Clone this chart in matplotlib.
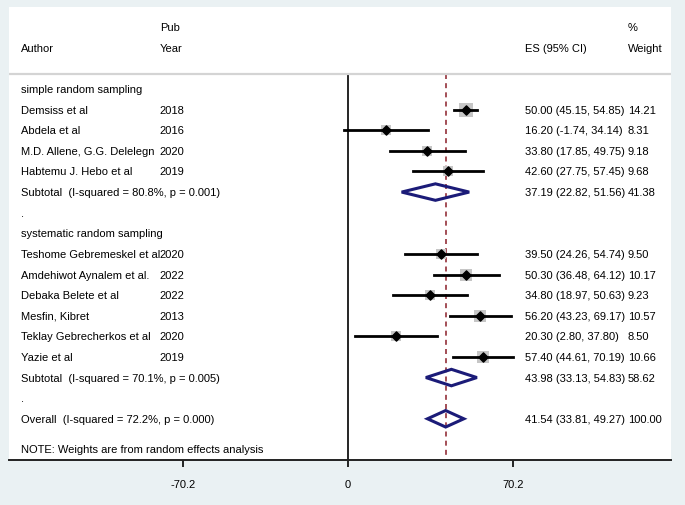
import matplotlib
matplotlib.use("Agg")
import matplotlib.pyplot as plt
from matplotlib.transforms import blended_transform_factory
from matplotlib.patches import Polygon

plt.rcParams['font.family'] = ['Liberation Sans', 'DejaVu Sans']

# study level data
groups = ['simple random sampling', 'systematic random sampling']
authors = [
    ['Demsiss et al', 'Abdela et al', 'M.D. Allene, G.G. Delelegn', 'Habtemu J. Hebo et al'],
    ['Teshome Gebremeskel et al', 'Amdehiwot Aynalem et al.', 'Debaka Belete et al',
     'Mesfin, Kibret', 'Teklay Gebrecherkos et al', 'Yazie et al'],
]
years = [
    ['2018', '2016', '2020', '2019'],
    ['2020', '2022', '2022', '2013', '2020', '2019'],
]
es = [[50.00, 16.20, 33.80, 42.60], [39.50, 50.30, 34.80, 56.20, 20.30, 57.40]]
lo = [[45.15, -1.74, 17.85, 27.75], [24.26, 36.48, 18.97, 43.23, 2.80, 44.61]]
hi = [[54.85, 34.14, 49.75, 57.45], [54.74, 64.12, 50.63, 69.17, 37.80, 70.19]]
weights = [[14.21, 8.31, 9.18, 9.68], [9.50, 10.17, 9.23, 10.57, 8.50, 10.66]]

# subgroup pooled estimates
sub_label = ['Subtotal  (I-squared = 80.8%, p = 0.001)',
             'Subtotal  (I-squared = 70.1%, p = 0.005)']
sub_es = [37.19, 43.98]
sub_lo = [22.82, 33.13]
sub_hi = [51.56, 54.83]
sub_w = [41.38, 58.62]

overall_label = 'Overall  (I-squared = 72.2%, p = 0.000)'
overall_es, overall_lo, overall_hi, overall_w = 41.54, 33.81, 49.27, 100.00

ticks = [-70.2, 0, 70.2]

fig = plt.figure(figsize=(6.85, 5.06), dpi=100, facecolor='#eaf1f3')
W, H = 685, 506
ax = fig.add_axes([9 / W, (H - 461) / H, 662 / W, 453 / H])
ax.set_facecolor('white')
ax.set_xlim(-144.2, 137.4)
ax.set_ylim(18.0, -3.98)

tr = blended_transform_factory(ax.transAxes, ax.transData)
col_author, col_year, col_es, col_w = 0.018, 0.228, 0.779, 0.935
fs = 8

def label_row(y, left, year='', esv=None, l=None, h=None, w=None):
    ax.text(col_author, y, left, transform=tr, va='center', ha='left', fontsize=fs)
    if year:
        ax.text(col_year, y, year, transform=tr, va='center', ha='left', fontsize=fs)
    if esv is not None:
        ax.text(col_es, y, '%.2f (%.2f, %.2f)' % (esv, l, h), transform=tr,
                va='center', ha='left', fontsize=fs)
        ax.text(col_w, y, '%.2f' % w, transform=tr, va='center', ha='left', fontsize=fs)

def diamond(y, c, l, h):
    d = 0.4
    ax.add_patch(Polygon([(l, y), (c, y - d), (h, y), (c, y + d)], closed=True,
                         fill=False, edgecolor='#1b1b78', lw=2.2, zorder=4))

# header
ax.text(col_year, -3, 'Pub', transform=tr, va='center', fontsize=fs)
ax.text(col_w, -3, '%', transform=tr, va='center', fontsize=fs)
ax.text(col_author, -2, 'Author', transform=tr, va='center', fontsize=fs)
ax.text(col_year, -2, 'Year', transform=tr, va='center', fontsize=fs)
ax.text(col_es, -2, 'ES (95% CI)', transform=tr, va='center', fontsize=fs)
ax.text(col_w, -2, 'Weight', transform=tr, va='center', fontsize=fs)
ax.axhline(-0.73, color='#d4d4d4', lw=1.6)

row = 0
for g in range(len(groups)):
    label_row(row, groups[g])
    row += 1
    for i in range(len(authors[g])):
        label_row(row, authors[g][i], years[g][i], es[g][i], lo[g][i], hi[g][i], weights[g][i])
        side = 3.45 * weights[g][i] ** 0.5 * 0.72
        ax.scatter(es[g][i], row, marker='s', s=side ** 2, color='#c6c6c6',
                   linewidths=0, zorder=2)
        ax.plot([lo[g][i], hi[g][i]], [row, row], color='black', lw=2, zorder=3)
        ax.scatter(es[g][i], row, marker='D', s=22, color='black', zorder=4)
        row += 1
    label_row(row, sub_label[g], '', sub_es[g], sub_lo[g], sub_hi[g], sub_w[g])
    diamond(row, sub_es[g], sub_lo[g], sub_hi[g])
    row += 1
    label_row(row, '.')
    row += 1

label_row(row, overall_label, '', overall_es, overall_lo, overall_hi, overall_w)
diamond(row, overall_es, overall_lo, overall_hi)
ax.text(col_author, 17.48, 'NOTE: Weights are from random effects analysis',
        transform=tr, va='center', fontsize=fs)

ax.plot([0, 0], [-0.73, 18.0], color='black', lw=1.2, zorder=1)
ax.plot([overall_es, overall_es], [-0.73, 18.0], color='#94303a', lw=1.2,
        ls=(0, (3, 2.5)), zorder=1)

for s in ['top', 'left', 'right']:
    ax.spines[s].set_visible(False)
ax.spines['bottom'].set_linewidth(1.4)
ax.spines['bottom'].set_color('#222222')
ax.set_yticks([])
ax.set_xticks(ticks)
ax.set_xticklabels(['%g' % t for t in ticks])
ax.tick_params(axis='x', direction='out', length=5, width=1.2, pad=9, labelsize=fs)

fig.savefig('out.png', dpi=100, facecolor=fig.get_facecolor())
